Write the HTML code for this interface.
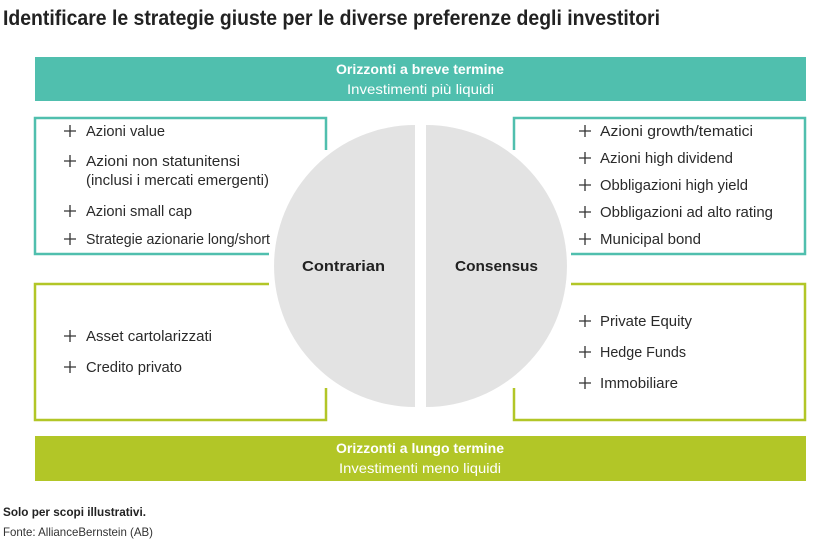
<!DOCTYPE html>
<html><head><meta charset="utf-8"><style>
html,body{margin:0;padding:0;background:#fff;}
svg{display:block;}
text{font-family:"Liberation Sans Narrow","Liberation Sans",sans-serif;}
.i{font-size:14.5px;fill:#2a2a2a;}
.p{stroke:#333;stroke-width:1.3;}
</style></head><body>
<svg width="840" height="542" viewBox="0 0 840 542" xmlns="http://www.w3.org/2000/svg">
<text x="3" y="25" font-size="21" font-weight="bold" fill="#222" textLength="657" lengthAdjust="spacingAndGlyphs">Identificare le strategie giuste per le diverse preferenze degli investitori</text>
<rect x="35" y="57" width="771" height="44" fill="#50bfae"/>
<text x="336" y="74" font-size="14" font-weight="bold" fill="#fff" textLength="168" lengthAdjust="spacingAndGlyphs">Orizzonti a breve termine</text>
<text x="347" y="94" font-size="14" fill="#fff" textLength="147" lengthAdjust="spacingAndGlyphs">Investimenti più liquidi</text>
<rect x="35" y="436" width="771" height="45" fill="#b2c627"/>
<text x="336" y="453" font-size="14" font-weight="bold" fill="#fff" textLength="168" lengthAdjust="spacingAndGlyphs">Orizzonti a lungo termine</text>
<text x="339" y="473" font-size="14" fill="#fff" textLength="162" lengthAdjust="spacingAndGlyphs">Investimenti meno liquidi</text>
<text x="3" y="516" font-size="12" font-weight="bold" fill="#222" textLength="143" lengthAdjust="spacingAndGlyphs">Solo per scopi illustrativi.</text>
<text x="3" y="536" font-size="12" fill="#333" textLength="150" lengthAdjust="spacingAndGlyphs">Fonte: AllianceBernstein (AB)</text>

<path d="M415,125 A141,141 0 0 0 415,407 Z" fill="#e3e3e3"/>
<path d="M426,125 A141,141 0 0 1 426,407 Z" fill="#e3e3e3"/>
<text x="302" y="271" font-size="15" font-weight="bold" fill="#222" textLength="83" lengthAdjust="spacingAndGlyphs">Contrarian</text>
<text x="455" y="271" font-size="15" font-weight="bold" fill="#222" textLength="83" lengthAdjust="spacingAndGlyphs">Consensus</text>

<g fill="none" stroke-width="2.5">
<path d="M269,254 H35 V118 H326 V150" stroke="#50bfae"/>
<path d="M269,284 H35 V420 H326 V388" stroke="#b2c627"/>
<path d="M571,254 H805 V118 H514 V150" stroke="#50bfae"/>
<path d="M571,284 H805 V420 H514 V388" stroke="#b2c627"/>
</g>

<g class="p">
<path d="M64,131 H76 M70,125 V137"/>
<path d="M64,161 H76 M70,155 V167"/>
<path d="M64,211 H76 M70,205 V217"/>
<path d="M64,239 H76 M70,233 V245"/>
<path d="M64,336 H76 M70,330 V342"/>
<path d="M64,367 H76 M70,361 V373"/>
<path d="M579,131 H591 M585,125 V137"/>
<path d="M579,158 H591 M585,152 V164"/>
<path d="M579,185 H591 M585,179 V191"/>
<path d="M579,212 H591 M585,206 V218"/>
<path d="M579,239 H591 M585,233 V245"/>
<path d="M579,321 H591 M585,315 V327"/>
<path d="M579,352 H591 M585,346 V358"/>
<path d="M579,383 H591 M585,377 V389"/>
</g>
<g class="i">
<text x="86" y="136" textLength="79" lengthAdjust="spacingAndGlyphs">Azioni value</text>
<text x="86" y="166" textLength="154" lengthAdjust="spacingAndGlyphs">Azioni non statunitensi</text>
<text x="86" y="185" textLength="183" lengthAdjust="spacingAndGlyphs">(inclusi i mercati emergenti)</text>
<text x="86" y="216" textLength="106" lengthAdjust="spacingAndGlyphs">Azioni small cap</text>
<text x="86" y="244" textLength="184" lengthAdjust="spacingAndGlyphs">Strategie azionarie long/short</text>
<text x="86" y="341" textLength="126" lengthAdjust="spacingAndGlyphs">Asset cartolarizzati</text>
<text x="86" y="372" textLength="96" lengthAdjust="spacingAndGlyphs">Credito privato</text>
<text x="600" y="136" textLength="153" lengthAdjust="spacingAndGlyphs">Azioni growth/tematici</text>
<text x="600" y="163" textLength="133" lengthAdjust="spacingAndGlyphs">Azioni high dividend</text>
<text x="600" y="190" textLength="148" lengthAdjust="spacingAndGlyphs">Obbligazioni high yield</text>
<text x="600" y="217" textLength="173" lengthAdjust="spacingAndGlyphs">Obbligazioni ad alto rating</text>
<text x="600" y="244" textLength="101" lengthAdjust="spacingAndGlyphs">Municipal bond</text>
<text x="600" y="326" textLength="92" lengthAdjust="spacingAndGlyphs">Private Equity</text>
<text x="600" y="357" textLength="86" lengthAdjust="spacingAndGlyphs">Hedge Funds</text>
<text x="600" y="388" textLength="78" lengthAdjust="spacingAndGlyphs">Immobiliare</text>
</g>
</svg>
</body></html>
